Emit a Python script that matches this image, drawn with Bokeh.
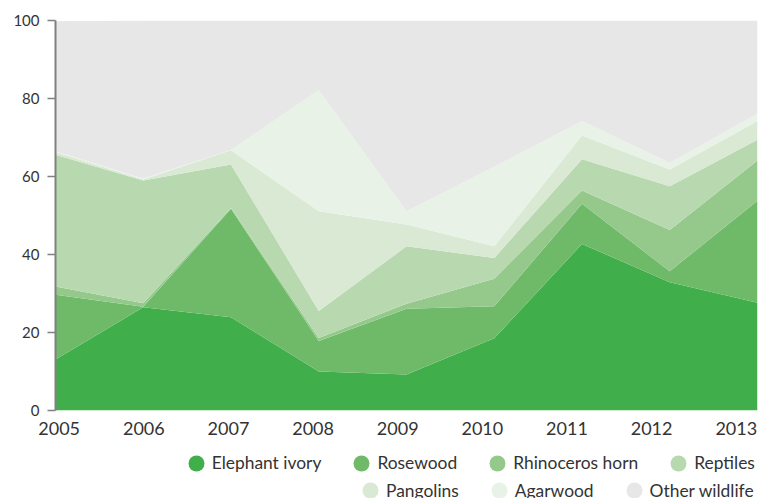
from bokeh.plotting import figure
from bokeh.layouts import column
from bokeh.models import ColumnDataSource, Range1d, FixedTicker, Legend, LegendItem
from bokeh.embed import file_html
from bokeh.resources import INLINE

# ---- data (percent share per category, stacked to 100) ----
years = [2005, 2006, 2007, 2008, 2009, 2010, 2011, 2012, 2013]
year_labels = ["2005", "2006", "2007", "2008", "2009", "2010", "2011", "2012", "2013"]
elephant_ivory = [13.1, 26.5, 23.9, 10.0, 9.2, 18.5, 42.7, 32.9, 27.6]
rosewood = [16.6, 0.1, 27.8, 7.8, 16.9, 8.2, 10.3, 2.8, 26.2]
rhinoceros_horn = [2.1, 0.9, 0.2, 0.8, 1.3, 7.1, 3.4, 10.6, 10.3]
reptiles = [33.8, 31.5, 11.2, 6.9, 14.7, 5.3, 8.0, 11.2, 5.3]
pangolins = [0.7, 0.2, 3.6, 25.6, 5.6, 3.0, 6.1, 4.3, 4.8]
agarwood = [0.2, 0.3, 0.1, 31.1, 3.4, 20.4, 3.7, 1.7, 1.9]
other_wildlife = [33.3, 40.5, 33.2, 17.8, 48.9, 37.5, 25.8, 36.5, 23.9]

series_names = ["Elephant ivory", "Rosewood", "Rhinoceros horn", "Reptiles",
                "Pangolins", "Agarwood", "Other wildlife"]
series_values = [elephant_ivory, rosewood, rhinoceros_horn, reptiles,
                 pangolins, agarwood, other_wildlife]
colors = ["#40ae4a", "#6fba68", "#95c98b", "#b8d9b0", "#d9e9d4", "#e8f2e7", "#e6e7e6"]

FONT = "Lato"
TEXT = "#333333"

data = {"year": years}
keys = []
for i, vals in enumerate(series_values):
    k = f"s{i}"
    keys.append(k)
    data[k] = vals
source = ColumnDataSource(data)

p = figure(width=772, height=440, output_backend="svg", toolbar_location=None,
           x_range=Range1d(years[0], years[-1]), y_range=Range1d(0, 100),
           min_border_left=55, min_border_right=15, min_border_top=20,
           min_border_bottom=30)
p.outline_line_color = None
p.grid.visible = False
p.background_fill_color = "white"

p.varea_stack(stackers=keys, x="year", color=colors, source=source)

# x axis: labels spread slightly narrower than the data span (as in the original)
label_start = years[0] + 0.042
label_step = 0.9645
tick_pos = [round(label_start + i * label_step, 4) for i in range(len(year_labels))]
p.xaxis.ticker = FixedTicker(ticks=tick_pos)
p.xaxis.major_label_overrides = {t: lab for t, lab in zip(tick_pos, year_labels)}
p.xaxis.axis_line_color = None
p.xaxis.major_tick_line_color = None
p.xaxis.minor_tick_line_color = None
p.xaxis.major_label_standoff = 5
p.xaxis.major_label_text_font = FONT
p.xaxis.major_label_text_font_size = "18px"
p.xaxis.major_label_text_color = TEXT

p.yaxis.ticker = FixedTicker(ticks=[0, 20, 40, 60, 80, 100])
p.yaxis.axis_line_color = "#808080"
p.yaxis.axis_line_width = 2
p.yaxis.major_tick_line_color = "#808080"
p.yaxis.major_tick_line_width = 1.5
p.yaxis.major_tick_in = 0
p.yaxis.major_tick_out = 8
p.yaxis.minor_tick_line_color = None
p.yaxis.major_label_standoff = 8
p.yaxis.major_label_text_font = FONT
p.yaxis.major_label_text_font_size = "15px"
p.yaxis.major_label_text_color = TEXT

# ---- legend strip below the chart ----
lf = figure(width=772, height=58, output_backend="svg", toolbar_location=None,
            x_range=Range1d(0, 1), y_range=Range1d(0, 1),
            min_border_left=55, min_border_right=15,
            min_border_top=0, min_border_bottom=0)
lf.axis.visible = False
lf.grid.visible = False
lf.outline_line_color = None

nan = float("nan")
items = []
for name, c in zip(series_names, colors):
    r = lf.ellipse(x=[nan], y=[nan], width=16, height=16,
                   width_units="screen", height_units="screen",
                   fill_color=c, line_color=None)
    items.append(LegendItem(label=name, renderers=[r]))

def make_legend(its, loc):
    return Legend(items=its, location=loc, orientation="horizontal",
                  glyph_width=20, glyph_height=20, label_standoff=6, spacing=30,
                  padding=0, margin=0, border_line_color=None,
                  background_fill_alpha=0,
                  label_text_font=FONT, label_text_font_size="17.4px",
                  label_text_color=TEXT)

lf.add_layout(make_legend(items[:4], (130.7, 24.8)), "center")
lf.add_layout(make_legend(items[4:], (305, -2.5)), "center")

layout = column(p, lf, spacing=0)
open("out.html", "w").write(file_html(layout, INLINE))
